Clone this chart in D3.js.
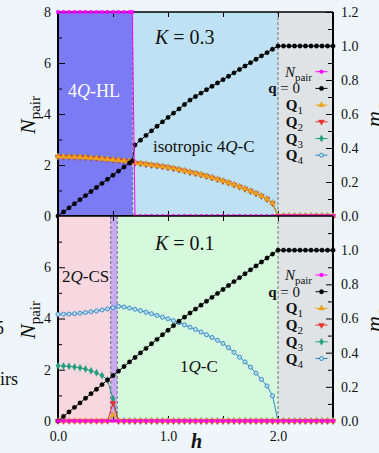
<!DOCTYPE html>
<html>
<head>
<meta charset="utf-8">
<script src="https://cdn.jsdelivr.net/npm/d3@7"></script>
<style>
  body { margin: 0; background: #eef6fc; }
  svg { display: block; }
  svg text { font-family: "Liberation Serif", "Times New Roman", serif !important; }
</style>
</head>
<body>
<script>
// ---- data ----
// upper panel, K = 0.3
const hTop = [0,0.05,0.1,0.15,0.2,0.25,0.3,0.35,0.4,0.45,0.5,0.55,0.6,0.65,0.675,
  0.7,0.75,0.8,0.85,0.9,0.95,1,1.05,1.1,1.15,1.2,1.25,1.3,1.35,1.4,1.45,1.5,1.55,1.6,1.65,
  1.7,1.75,1.8,1.85,1.9,1.95,2,2.05,2.1,2.15,2.2,2.25,2.3,2.35,2.4,2.45,2.5];
const npairTop = [8,8,8,8,8,8,8,8,8,8,8,8,8,8,8,
  0,0,0,0,0,0,0,0,0,0,0,0,0,0,0,0,0,0,0,0,0,0,0,0,0,0,0,0,0,0,0,0,0,0,0,0,0];
const m0Top = [0,0.024,0.048,0.072,0.096,0.12,0.144,0.168,0.192,0.216,0.24,0.264,0.288,0.312,0.324,
  0.418,0.446,0.474,0.501,0.528,0.554,0.58,0.605,0.63,0.656,0.682,0.703,0.723,0.743,0.763,0.783,
  0.802,0.822,0.842,0.862,0.882,0.902,0.922,0.942,0.961,0.981,1,1,1,1,1,1,1,1,1,1,1];
// all four Q components coincide in the isotropic phases
const mQTop = [0.349,0.349,0.348,0.347,0.346,0.344,0.342,0.34,0.337,0.334,0.331,0.328,0.325,0.322,0.32,
  0.312,0.309,0.305,0.3,0.296,0.291,0.286,0.28,0.273,0.266,0.258,0.251,0.243,0.235,0.226,0.216,
  0.206,0.196,0.184,0.172,0.16,0.147,0.133,0.118,0.1,0.076,0,0,0,0,0,0,0,0,0,0,0];

// lower panel, K = 0.1
const hBot = [0,0.05,0.1,0.15,0.2,0.25,0.3,0.35,0.4,0.45,0.5,0.55,0.6,0.65,0.7,0.75,0.8,0.85,
  0.9,0.95,1,1.05,1.1,1.15,1.2,1.25,1.3,1.35,1.4,1.45,1.5,1.55,1.6,1.65,1.7,1.75,1.8,1.85,1.9,
  1.95,2,2.05,2.1,2.15,2.2,2.25,2.3,2.35,2.4,2.45,2.5];
const npairBot = [0,0,0,0,0,0,0,0,0,0,0,0,0,0,0,0,0,0,0,0,0,0,0,0,0,0,0,0,0,0,0,0,0,0,0,0,0,0,0,0,0,0,0,0,0,0,0,0,0,0,0];
const m0Bot = [0,0.027,0.053,0.08,0.106,0.133,0.16,0.186,0.213,0.24,0.266,0.292,0.319,0.346,
  0.372,0.399,0.425,0.452,0.478,0.505,0.531,0.558,0.584,0.608,0.632,0.655,0.678,0.701,0.724,
  0.747,0.77,0.793,0.816,0.839,0.862,0.885,0.908,0.931,0.954,0.977,1,1,1,1,1,1,1,1,1,1,1];
const mQ1Bot = [0,0,0,0,0,0,0,0,0,0,0.035,0,0,0,0,0,0,0,0,0,0,0,0,0,0,0,0,0,0,0,0,0,0,0,0,0,0,0,0,0,0,0,0,0,0,0,0,0,0,0,0];
const mQ2Bot = [0,0,0,0,0,0,0,0,0,0,0.105,0,0,0,0,0,0,0,0,0,0,0,0,0,0,0,0,0,0,0,0,0,0,0,0,0,0,0,0,0,0,0,0,0,0,0,0,0,0,0,0];
const mQ3Bot = [0.323,0.322,0.32,0.316,0.311,0.304,0.294,0.282,0.266,0.24,0.13,0,0,0,0,0,0,0,0,0,0,0,0,0,0,0,0,0,0,0,0,0,0,0,0,0,0,0,0,0,0,0,0,0,0,0,0,0,0,0,0];
const mQ4Bot = [0.624,0.625,0.626,0.628,0.631,0.635,0.639,0.644,0.65,0.656,0.663,0.671,0.667,
  0.661,0.654,0.646,0.637,0.628,0.618,0.608,0.598,0.587,0.576,0.563,0.549,0.536,0.521,0.505,
  0.489,0.472,0.454,0.429,0.402,0.374,0.346,0.315,0.28,0.243,0.205,0.148,0,0,0,0,0,0,0,0,0,0,0];

// phase boundaries (h)
const phaseTop = [0, 0.679, 2.0, 2.5];
const phaseBot = [0, 0.479, 0.539, 2.0, 2.5];

const nTicks = [0, 2, 4, 6, 8];
const nMinor = [1, 3, 5, 7];
const mTicks = [0, 0.2, 0.4, 0.6, 0.8, 1.0, 1.2];
const mMinor = [0.1, 0.3, 0.5, 0.7, 0.9, 1.1];
const hTicks = [0, 1, 2];
const hMinor = [0.5, 1.5];

// ---- drawing ----
const W = 379, H = 453;
const svg = d3.select("body").append("svg").attr("width", W).attr("height", H);

const x = d3.scaleLinear().domain([0, 2.5]).range([58, 333]);

const styles = {
  npair: { color: "#ff00ff", sym: d3.symbolSquare, size: 10, fill: true },
  m0:    { color: "#000000", sym: d3.symbolCircle, size: 15, fill: true },
  Q1:    { color: "#eca21a", sym: d3.symbolTriangle, size: 15, fill: true },
  Q2:    { color: "#e8322c", sym: d3.symbolTriangle, size: 15, fill: true, flip: true },
  Q3:    { color: "#1f9e7a", sym: d3.symbolDiamond, size: 14, fill: true },
  Q4:    { color: "#2f86c4", sym: d3.symbolCircle, size: 13, fill: false }
};

function drawSeries(g, hs, vs, y, st) {
  const line = d3.line().x((d, i) => x(hs[i])).y(d => y(d));
  g.append("path").datum(vs).attr("d", line)
    .attr("fill", "none").attr("stroke", st.color).attr("stroke-width", 1);
  g.selectAll(null).data(vs).enter().append("path")
    .attr("d", d3.symbol().type(st.sym).size(st.size))
    .attr("transform", (d, i) => `translate(${x(hs[i])},${y(d)})` + (st.flip ? " rotate(180)" : ""))
    .attr("fill", st.fill ? st.color : "#bcdcf0")
    .attr("stroke", st.color).attr("stroke-width", st.fill ? 0.4 : 0.9);
}

function panel(cfg) {
  const yM = d3.scaleLinear().domain([0, 1.2]).range([cfg.y1, cfg.y0]);
  const yN = d3.scaleLinear().domain([0, 8]).range([cfg.y1, cfg.y0]);
  const g = svg.append("g");

  // phase backgrounds
  for (let i = 0; i < cfg.phases.length - 1; i++) {
    g.append("rect")
      .attr("x", x(cfg.phases[i])).attr("y", cfg.y0)
      .attr("width", x(cfg.phases[i + 1]) - x(cfg.phases[i]))
      .attr("height", cfg.y1 - cfg.y0)
      .attr("fill", cfg.colors[i]);
  }
  cfg.phases.slice(1, -1).forEach(p => {
    g.append("line").attr("x1", x(p)).attr("x2", x(p))
      .attr("y1", cfg.y0).attr("y2", cfg.y1)
      .attr("stroke", "#555").attr("stroke-width", 0.8).attr("stroke-dasharray", "3,2");
  });

  // frame
  g.append("line").attr("x1", x(0)).attr("x2", x(2.5)).attr("y1", cfg.y0).attr("y2", cfg.y0)
    .attr("stroke", "#000").attr("stroke-width", 1.5);
  g.append("line").attr("x1", x(0)).attr("x2", x(2.5)).attr("y1", cfg.y1).attr("y2", cfg.y1)
    .attr("stroke", "#000").attr("stroke-width", 1.5);

  // axes
  const left = g.append("g").attr("transform", `translate(${x(0)},0)`)
    .call(d3.axisLeft(yN).tickValues(cfg.nLabels).tickSizeInner(-7).tickSizeOuter(0)
      .tickPadding(7).tickFormat(d3.format("d")));
  g.append("g").attr("transform", `translate(${x(0)},0)`)
    .call(d3.axisLeft(yN).tickValues(nMinor).tickSizeInner(-4).tickSizeOuter(0).tickFormat(""));
  const right = g.append("g").attr("transform", `translate(${x(2.5)},0)`)
    .call(d3.axisRight(yM).tickValues(cfg.mLabels).tickSizeInner(-7).tickSizeOuter(0)
      .tickPadding(8).tickFormat(d3.format(".1f")));
  g.append("g").attr("transform", `translate(${x(2.5)},0)`)
    .call(d3.axisRight(yM).tickValues(mMinor).tickSizeInner(-5).tickSizeOuter(0).tickFormat(""));
  g.append("g").attr("transform", `translate(0,${cfg.y0})`)
    .call(d3.axisTop(x).tickValues(hTicks.concat(hMinor)).tickSizeInner(-5).tickSizeOuter(0).tickFormat(""));
  const bottom = g.append("g").attr("transform", `translate(0,${cfg.y1})`)
    .call(d3.axisBottom(x).tickValues(cfg.bottomLabels ? hTicks : hTicks.concat(hMinor))
      .tickSizeInner(-5).tickSizeOuter(0).tickPadding(10)
      .tickFormat(cfg.bottomLabels ? d3.format(".1f") : ""));
  if (cfg.bottomLabels) {
    g.append("g").attr("transform", `translate(0,${cfg.y1})`)
      .call(d3.axisBottom(x).tickValues(hMinor).tickSizeInner(-5).tickSizeOuter(0).tickFormat(""));
  }
  [left, right, bottom].forEach(a => a.selectAll("text").attr("font-size", 14).attr("fill", "#111"));
  g.selectAll(".domain").attr("stroke", "none");
  g.selectAll(".tick line").attr("stroke", "#000").attr("stroke-width", 1);
  g.append("line").attr("x1", x(0)).attr("x2", x(0)).attr("y1", cfg.y0).attr("y2", cfg.y1)
    .attr("stroke", "#000").attr("stroke-width", 2);
  g.append("line").attr("x1", x(2.5)).attr("x2", x(2.5)).attr("y1", cfg.y0).attr("y2", cfg.y1)
    .attr("stroke", "#000").attr("stroke-width", 2);

  // data
  cfg.series.forEach(s => drawSeries(g, s.h, s.v, s.key === "npair" ? yN : yM, styles[s.key]));

  // legend
  const legKeys = ["npair", "m0", "Q1", "Q2", "Q3", "Q4"];
  legKeys.forEach((k, i) => {
    const yy = cfg.legendY + i * 16.7;
    const st = styles[k];
    g.append("line").attr("x1", 315.5).attr("x2", 327.5).attr("y1", yy).attr("y2", yy)
      .attr("stroke", st.color).attr("stroke-width", 1);
    g.append("path").attr("d", d3.symbol().type(st.sym).size(st.size)())
      .attr("transform", `translate(321.5,${yy})` + (st.flip ? " rotate(180)" : ""))
      .attr("fill", st.fill ? st.color : "#bcdcf0").attr("stroke", st.color)
      .attr("stroke-width", st.fill ? 0.4 : 0.9);
    const t = g.append("text").attr("y", yy + 5).attr("text-anchor", "end").attr("fill", "#111");
    if (k === "npair") {
      t.attr("x", 312);
      t.append("tspan").attr("font-style", "italic").attr("font-size", 15).text("N");
      t.append("tspan").attr("font-size", 11).attr("dy", 4).text("pair");
    } else if (k === "m0") {
      t.attr("x", 300).attr("font-size", 15);
      t.append("tspan").attr("font-weight", "bold").text("q");
      t.append("tspan").text(" = 0");
    } else {
      t.attr("x", 303);
      t.append("tspan").attr("font-weight", "bold").attr("font-size", 15).text("Q");
      t.append("tspan").attr("font-size", 11).attr("dy", 4).text(k.slice(1));
    }
  });

  // axis titles
  const ny = g.append("text").attr("transform", `translate(35,${cfg.nTitleY}) rotate(-90)`)
    .attr("text-anchor", "middle").attr("fill", "#111");
  ny.append("tspan").attr("font-style", "italic").attr("font-size", 22).text("N");
  ny.append("tspan").attr("font-size", 15).attr("dy", 5).text("pair");
  const my = g.append("text").attr("transform", `translate(381,${cfg.mTitleY}) rotate(-90)`)
    .attr("fill", "#111");
  my.append("tspan").attr("font-style", "italic").attr("font-size", 22).text("m");
  my.append("tspan").attr("font-style", "italic").attr("font-size", 15).attr("dy", 5).text("q");

  // K label
  const kt = g.append("text").attr("x", 155).attr("y", cfg.kY).attr("font-size", 20).attr("fill", "#111");
  kt.append("tspan").attr("font-style", "italic").text("K");
  kt.append("tspan").text(" = " + cfg.K);
  return g;
}

function phaseLabel(g, px, py, pre, post, size, color) {
  const t = g.append("text").attr("x", px).attr("y", py).attr("font-size", size).attr("fill", color);
  t.append("tspan").text(pre);
  t.append("tspan").attr("font-style", "italic").text("Q");
  t.append("tspan").text(post);
}

const gTop = panel({
  y0: 12, y1: 216, phases: phaseTop,
  colors: ["#7b7bf6", "#bee2f3", "#dfe3e6"],
  nLabels: nTicks, mLabels: mTicks, bottomLabels: false,
  legendY: 71.7, nTitleY: 115, mTitleY: 127, kY: 43.5, K: "0.3",
  series: [
    { key: "Q4", h: hTop, v: mQTop }, { key: "Q3", h: hTop, v: mQTop },
    { key: "Q2", h: hTop, v: mQTop }, { key: "Q1", h: hTop, v: mQTop },
    { key: "m0", h: hTop, v: m0Top }, { key: "npair", h: hTop, v: npairTop }
  ]
});
phaseLabel(gTop, 68, 97, "4", "-HL", 18, "#ffffff");
phaseLabel(gTop, 153, 151.5, "isotropic 4", "-C", 17, "#111");

const gBot = panel({
  y0: 216, y1: 421, phases: phaseBot,
  colors: ["#f7d8e1", "#c9aaf2", "#d6f8dc", "#dfe3e6"],
  nLabels: [0, 2, 4, 6], mLabels: [0, 0.2, 0.4, 0.6, 0.8, 1.0], bottomLabels: true,
  legendY: 275, nTitleY: 320, mTitleY: 332, kY: 250, K: "0.1",
  series: [
    { key: "Q4", h: hBot, v: mQ4Bot }, { key: "Q3", h: hBot, v: mQ3Bot },
    { key: "Q2", h: hBot, v: mQ2Bot }, { key: "Q1", h: hBot, v: mQ1Bot },
    { key: "m0", h: hBot, v: m0Bot }, { key: "npair", h: hBot, v: npairBot }
  ]
});
phaseLabel(gBot, 62, 281.5, "2", "-CS", 17, "#111");
phaseLabel(gBot, 180, 372, "1", "-C", 17, "#111");

// x title
svg.append("text").attr("x", 191).attr("y", 448).attr("font-size", 20)
  .attr("font-style", "italic").attr("font-weight", "bold").attr("fill", "#111").text("h");

// clipped text from the neighbouring figure at the left edge
svg.append("text").attr("x", 4).attr("y", 334).attr("text-anchor", "end")
  .attr("font-size", 18).attr("fill", "#111").text("5");
svg.append("text").attr("x", 18).attr("y", 385).attr("text-anchor", "end")
  .attr("font-size", 18).attr("fill", "#111").text("pairs");
</script>
</body>
</html>
